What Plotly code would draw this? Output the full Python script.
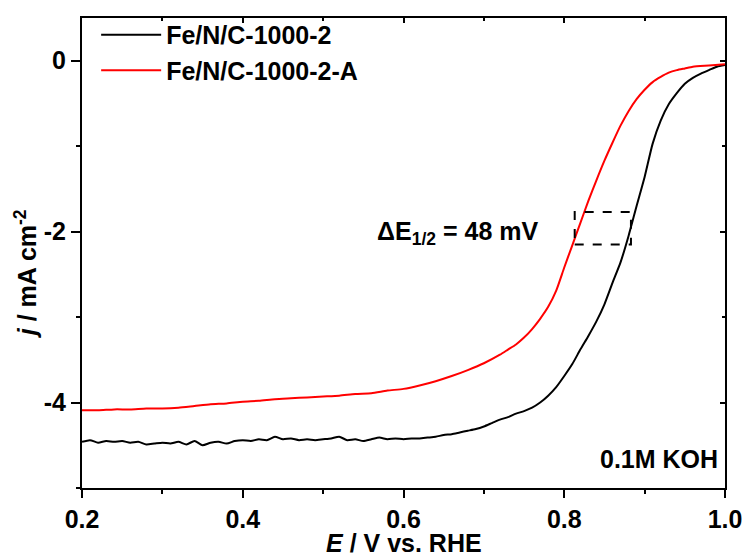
import plotly.graph_objects as go

# ---- data ----
E_black = [0.20, 0.21, 0.22, 0.23, 0.24, 0.25, 0.26, 0.27, 0.28, 0.29,
           0.30, 0.31, 0.32, 0.33, 0.34, 0.35, 0.36, 0.37, 0.38, 0.39,
           0.40, 0.41, 0.42, 0.43, 0.44, 0.45, 0.46, 0.47, 0.48, 0.49,
           0.50, 0.51, 0.52, 0.53, 0.54, 0.55, 0.56, 0.57, 0.58, 0.59,
           0.60, 0.61, 0.62, 0.63, 0.64, 0.65, 0.66, 0.67, 0.68, 0.69,
           0.70, 0.71, 0.72, 0.73, 0.74, 0.75, 0.76, 0.77, 0.78, 0.79,
           0.80, 0.81, 0.82, 0.83, 0.84, 0.85, 0.86, 0.87, 0.88, 0.89,
           0.90, 0.91, 0.92, 0.93, 0.94, 0.95, 0.96, 0.97, 0.98, 0.99, 1.00]
j_black = [-4.46, -4.44, -4.47, -4.45, -4.46, -4.45, -4.47, -4.46, -4.49, -4.48,
           -4.47, -4.48, -4.46, -4.49, -4.45, -4.50, -4.47, -4.46, -4.48, -4.45,
           -4.44, -4.45, -4.43, -4.44, -4.40, -4.43, -4.42, -4.44, -4.43, -4.44,
           -4.43, -4.42, -4.40, -4.44, -4.43, -4.45, -4.43, -4.41, -4.43, -4.42,
           -4.43, -4.42, -4.42, -4.41, -4.40, -4.38, -4.37, -4.35, -4.33, -4.31,
           -4.28, -4.24, -4.20, -4.17, -4.13, -4.10, -4.06, -4.00, -3.92, -3.82,
           -3.69, -3.55, -3.38, -3.22, -3.05, -2.85, -2.60, -2.36, -2.05, -1.70,
           -1.36, -0.97, -0.70, -0.51, -0.38, -0.27, -0.20, -0.15, -0.11, -0.07, -0.05]

E_red = [0.20, 0.22, 0.24, 0.26, 0.28, 0.30, 0.32, 0.34, 0.36, 0.38,
         0.40, 0.42, 0.44, 0.46, 0.48, 0.50, 0.52, 0.54, 0.56, 0.58,
         0.60, 0.62, 0.64, 0.66, 0.68, 0.70, 0.72, 0.73, 0.74, 0.75,
         0.76, 0.77, 0.78, 0.79, 0.80, 0.81, 0.82, 0.83, 0.84, 0.85,
         0.86, 0.87, 0.88, 0.89, 0.90, 0.91, 0.92, 0.93, 0.94, 0.95,
         0.96, 0.98, 1.00]
j_red = [-4.09, -4.09, -4.08, -4.08, -4.07, -4.07, -4.06, -4.04, -4.02, -4.01,
         -3.99, -3.98, -3.96, -3.95, -3.94, -3.93, -3.92, -3.90, -3.89, -3.86,
         -3.84, -3.80, -3.75, -3.69, -3.62, -3.54, -3.44, -3.38, -3.32, -3.24,
         -3.14, -3.02, -2.88, -2.69, -2.42, -2.16, -1.90, -1.64, -1.40, -1.17,
         -0.96, -0.76, -0.59, -0.45, -0.34, -0.25, -0.19, -0.14, -0.11, -0.09,
         -0.07, -0.055, -0.04]

series_names = ["Fe/N/C-1000-2", "Fe/N/C-1000-2-A"]
box_E = [0.813, 0.883]
box_j = [-2.15, -1.77]
x_ticks = [0.2, 0.4, 0.6, 0.8, 1.0]
x_tick_labels = ["0.2", "0.4", "0.6", "0.8", "1.0"]
y_ticks = [0, -2, -4]
y_tick_labels = ["0", "-2", "-4"]

FONT = "Liberation Sans, Arial, sans-serif"

fig = go.Figure()
fig.add_trace(go.Scatter(x=E_black, y=j_black, mode="lines", name=series_names[0],
                         line=dict(color="black", width=2, shape="spline", smoothing=0.6)))
fig.add_trace(go.Scatter(x=E_red, y=j_red, mode="lines", name=series_names[1],
                         line=dict(color="#ff0000", width=2, shape="spline", smoothing=0.6)))
# helper trace for mirrored inside ticks on top/right
fig.add_trace(go.Scatter(x=[None], y=[None], xaxis="x2", yaxis="y2",
                         showlegend=False, hoverinfo="skip"))

fig.add_shape(type="rect", x0=box_E[0], x1=box_E[1], y0=box_j[0], y1=box_j[1],
              xref="x", yref="y", line=dict(color="black", width=2, dash="dash"))

fig.add_annotation(x=0.565, y=-2.02, xref="x", yref="y", xanchor="left", yanchor="middle",
                   text="ΔE<sub>1/2</sub> = 48 mV", showarrow=False,
                   font=dict(family=FONT, size=25, color="black", weight="bold"))
fig.add_annotation(x=0.994, y=-4.66, xref="x", yref="y", xanchor="right", yanchor="middle",
                   text="0.1M KOH", showarrow=False,
                   font=dict(family=FONT, size=25, color="black", weight="bold"))
# y-axis title (placed as in the reference, slightly below the axis centre)
fig.add_annotation(x=-0.087, y=0.455, xref="paper", yref="paper",
                   xanchor="center", yanchor="middle", textangle=-90,
                   text="<i>j</i> / mA cm<sup>-2</sup>", showarrow=False,
                   font=dict(family=FONT, size=25, color="black", weight="bold"))
# x-axis title
fig.add_annotation(x=0.5, y=-0.118, xref="paper", yref="paper",
                   xanchor="center", yanchor="middle",
                   text="<i>E</i> / V vs. RHE", showarrow=False,
                   font=dict(family=FONT, size=25, color="black", weight="bold"))

axis_common = dict(showgrid=False, zeroline=False, linecolor="black", linewidth=2,
                   tickcolor="black", tickwidth=2, automargin=False)

fig.update_layout(
    width=746, height=558,
    margin=dict(l=82, r=21, t=15, b=70),
    paper_bgcolor="white", plot_bgcolor="white",
    font=dict(family=FONT, color="black"),
    showlegend=True,
    legend=dict(x=0.022, y=1.013, xanchor="left", yanchor="top",
                bgcolor="rgba(0,0,0,0)", borderwidth=0,
                font=dict(family=FONT, size=25, color="black", weight="bold"),
                tracegroupgap=0, itemwidth=60),
    xaxis=dict(range=[0.2, 1.0], tickmode="array", tickvals=x_ticks, ticktext=x_tick_labels,
               ticks="outside", ticklen=8,
               minor=dict(dtick=0.1, tick0=0.2, ticks="outside", ticklen=4,
                          tickcolor="black", tickwidth=2),
               tickfont=dict(family=FONT, size=25, weight="bold"),
               **axis_common),
    yaxis=dict(range=[-5, 0.5], tickmode="array", tickvals=y_ticks, ticktext=y_tick_labels,
               ticks="outside", ticklen=9,
               minor=dict(dtick=1, tick0=0, ticks="outside", ticklen=4,
                          tickcolor="black", tickwidth=2),
               tickfont=dict(family=FONT, size=25, weight="bold"),
               **axis_common),
    xaxis2=dict(range=[0.2, 1.0], overlaying="x", side="top", anchor="y",
                tickmode="array", tickvals=x_ticks, ticks="inside", ticklen=5,
                showticklabels=False, showline=True, automargin=False,
                minor=dict(dtick=0.1, tick0=0.2, ticks="inside", ticklen=3,
                           tickcolor="black", tickwidth=1.5),
                showgrid=False, zeroline=False, linecolor="black", linewidth=2,
                tickcolor="black", tickwidth=1.5),
    yaxis2=dict(range=[-5, 0.5], overlaying="y", side="right", anchor="x",
                tickmode="array", tickvals=y_ticks, ticks="inside", ticklen=5,
                showticklabels=False, showline=True, automargin=False,
                minor=dict(dtick=1, tick0=0, ticks="inside", ticklen=3,
                           tickcolor="black", tickwidth=1.5),
                showgrid=False, zeroline=False, linecolor="black", linewidth=2,
                tickcolor="black", tickwidth=1.5),
)

fig.write_html("out.html")
